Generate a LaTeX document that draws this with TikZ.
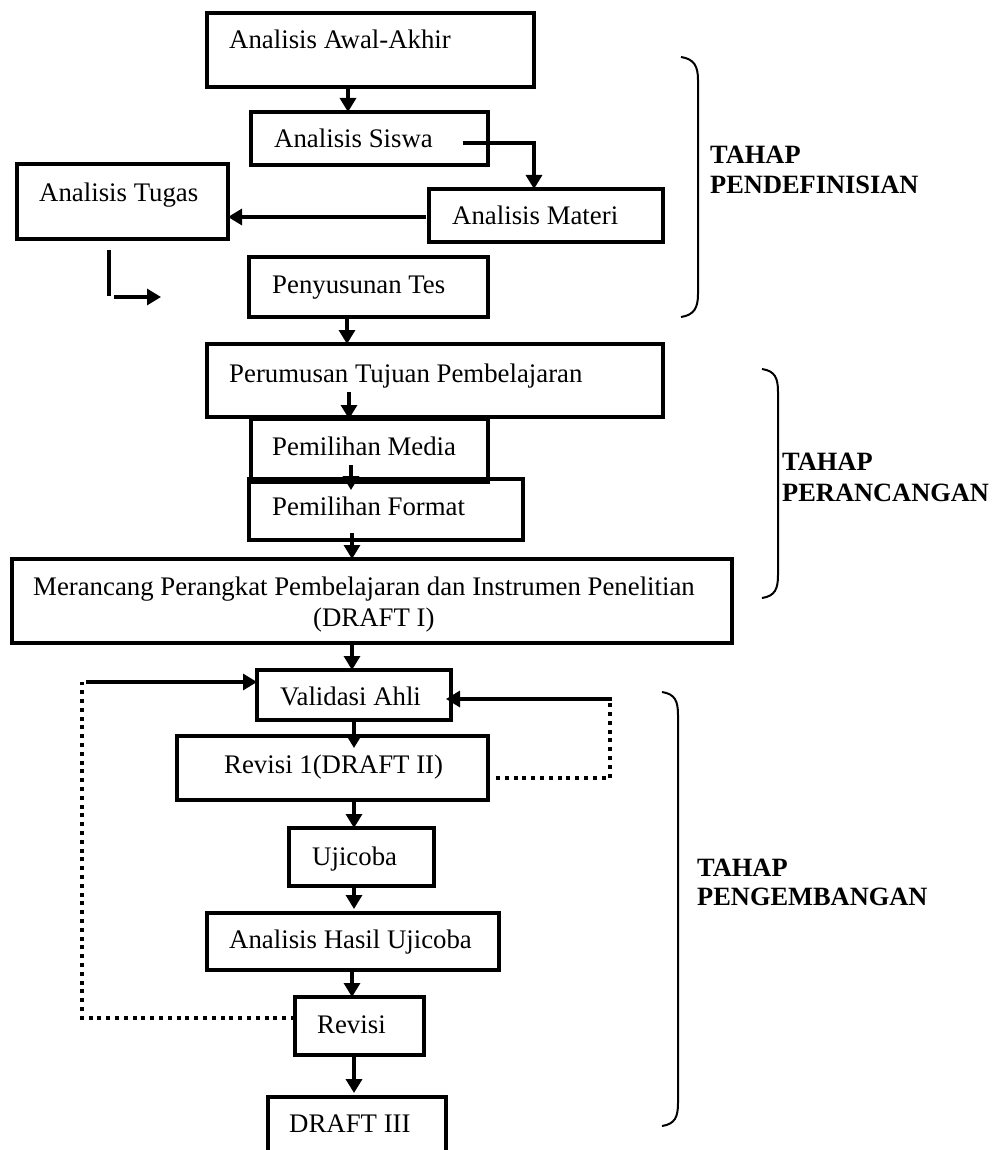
\documentclass[tikz,border=0pt]{standalone}
\usepackage{fontspec}
\setmainfont{Liberation Serif}
\usetikzlibrary{arrows.meta,calc}
\newcommand\mybox[5]{\node[box,minimum width={(#4-#2)*1pt},minimum height={(#5-#3)*1pt}] (#1) at ({(#2+#4)/2},{(#3+#5)/2}) {};}
\tikzset{
 box/.style={draw, line width=3.2pt, rectangle, inner sep=0pt, outer sep=0pt},
 lbl/.style={anchor=base west, inner sep=0pt, font=\fontsize{26.8}{31}\selectfont},
 bld/.style={anchor=base west, inner sep=0pt, font=\fontsize{26.4}{31}\selectfont\bfseries},
 arr/.style={line width=3.2pt, -{Triangle[width=16pt,length=14pt]}},
 dots/.style={line width=3.6pt, dash pattern=on 4pt off 4.8pt},
 brace/.style={line width=2pt},
}
\begin{document}
\begin{tikzpicture}[x=1pt,y=-1pt]
\clip (0,0) rectangle (992,1150);
% boxes
\mybox{aa}{207}{13}{534}{87}
\mybox{siswa}{251}{112}{488}{165}
\mybox{materi}{429}{189}{663}{242}
\mybox{tugas}{17}{164}{228}{239}
\mybox{tes}{249}{257}{488}{317}
\mybox{rumus}{207}{344}{663}{417}
\mybox{media}{251}{419}{488}{482}
\mybox{format}{249}{479}{523}{540}
\mybox{rancang}{12}{559}{732}{643}
\mybox{valid}{257}{670}{451}{720}
\mybox{rev1}{177}{736}{488}{800}
\mybox{uji}{289}{828}{434}{886}
\mybox{hasil}{207}{913}{499}{970}
\mybox{revisi}{295}{997}{424}{1055}
\mybox{draft}{268}{1097}{446}{1170}
% texts
\node[lbl] (taa) at (229,49) {Analisis Awal-Akhir};
\node[lbl] (tsiswa) at (274,148) {Analisis Siswa};
\node[lbl] (tmateri) at (452,225) {Analisis Materi};
\node[lbl] (ttugas) at (39,202) {Analisis Tugas};
\node[lbl] (ttes) at (272,293) {Penyusunan Tes};
\node[lbl] (trumus) at (229,382) {Perumusan Tujuan Pembelajaran};
\node[lbl] (tmedia) at (272,455) {Pemilihan Media};
\node[lbl] (tformat) at (272,515) {Pemilihan Format};
\node[lbl] (trancang1) at (33,595) {Merancang Perangkat Pembelajaran dan Instrumen Penelitian};
\node[lbl] (trancang2) at (313,626) {(DRAFT I)};
\node[lbl] (tvalid) at (280,705) {Validasi Ahli};
\node[lbl] (trev1) at (224,773) {Revisi 1(DRAFT II)};
\node[lbl] (tuji) at (312,865) {Ujicoba};
\node[lbl] (thasil) at (229,948) {Analisis Hasil Ujicoba};
\node[lbl] (trevisi) at (317,1033) {Revisi};
\node[lbl] (tdraft) at (289,1132) {DRAFT III};
% stage labels
\node[bld] (s1a) at (710,164) {TAHAP};
\node[bld] (s1b) at (710,194) {PENDEFINISIAN};
\node[bld] (s2a) at (782,470) {TAHAP};
\node[bld] (s2b) at (782,501) {PERANCANGAN};
\node[bld] (s3a) at (697,876) {TAHAP};
\node[bld] (s3b) at (697,905) {PENGEMBANGAN};
% braces
\draw[brace] (681,57) .. controls (694,59) and (698,66) .. (698,80) -- (698,294) .. controls (698,308) and (694,315) .. (681,317);
\draw[brace] (762,369) .. controls (775,371) and (778,378) .. (778,392) -- (778,575) .. controls (778,589) and (775,596) .. (762,598);
\draw[brace] (662,692) .. controls (675,694) and (678,701) .. (678,715) -- (678,1103) .. controls (678,1117) and (675,1124) .. (662,1126);
% connectors
\draw[arr] (aa.south -| 348,0) -- (siswa.north -| 348,0);
\draw[arr] ($(siswa.east |- 0,143)+(-25,0)$) -| (materi.north -| 534,0);
\draw[arr] ($(materi.west |- 0,217)+(-3,0)$) -- (tugas.east |- 0,217);
\coordinate (e1) at (109,250);
\coordinate (e2) at (109,296);
\coordinate (e3) at (114,297);
\coordinate (e4) at (161,297);
\draw[line width=3.2pt] (e1) -- (e2);
\draw[arr] (e3) -- (e4);
\draw[arr] (tes.south -| 347,0) -- (rumus.north -| 347,0);
\draw[arr] ($(rumus.south -| 349,0)+(0,-25)$) -- (media.north -| 349,0);
\draw[arr] ($(media.south -| 351,0)+(0,-17)$) -- ($(format.north -| 351,0)+(0,11)$);
\draw[arr] ($(format.south -| 352,0)+(0,-7)$) -- (rancang.north -| 352,0);
\draw[arr] (rancang.south -| 352,0) -- (valid.north -| 352,0);
\draw[arr] (valid.south -| 354,0) -- ($(rev1.north -| 354,0)+(0,12)$);
\draw[arr] (rev1.south -| 354,0) -- (uji.north -| 354,0);
\draw[arr] (uji.south -| 354,0) -- ($(hasil.north -| 354,0)+(0,-4)$);
\draw[arr] (hasil.south -| 352,0) -- (revisi.north -| 352,0);
\draw[arr,line width=4.2pt] (revisi.south -| 354,0) -- ($(draft.north -| 354,0)+(0,-4)$);
\coordinate (l1) at (82,682);
\draw[dots] (revisi.west |- 0,1018) -| (l1);
\draw[arr] ($(l1)+(4,0)$) -- (valid.west |- l1);
\coordinate (r1) at (610,699);
\draw[dots] ($(rev1.east |- 0,778)+(8,0)$) -| (r1);
\draw[arr] ($(r1)+(2,0)$) -- ($(valid.east |- r1)+(-5,0)$);
\end{tikzpicture}
\end{document}
